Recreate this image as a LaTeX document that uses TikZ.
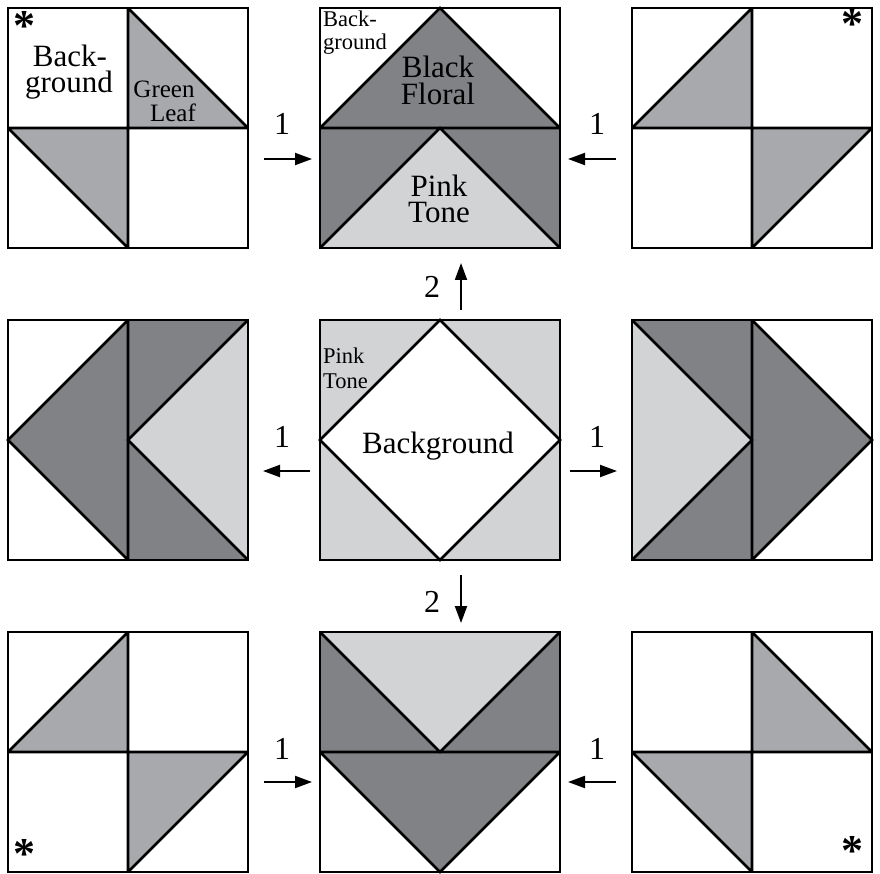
\documentclass[tikz,border=0pt]{standalone}
\usepackage{fontspec}
\setmainfont{Liberation Serif}
\usetikzlibrary{arrows.meta}
\definecolor{leaf}{HTML}{A7A9AC}
\definecolor{floral}{HTML}{808285}
\definecolor{pinktone}{HTML}{D1D3D4}
\tikzset{
  edge/.style={line width=2.6pt, line join=miter},
  txt/.style={inner sep=0pt, anchor=base},
  big/.style={font=\fontsize{31}{31}\selectfont},
  mid/.style={font=\fontsize{25}{25}\selectfont},
  small/.style={font=\fontsize{22.5}{22.5}\selectfont},
  num/.style={inner sep=0pt, anchor=base, font=\fontsize{32}{32}\selectfont},
  star/.style={inner sep=0pt, font=\fontsize{44}{44}\selectfont\bfseries},
  arr/.style={line width=2pt, -{Triangle[length=17pt,width=12pt]}},
  pinA/.pic={
    \fill[leaf] (120,0)--(240,120)--(120,120)--cycle;
    \fill[leaf] (0,120)--(120,120)--(120,240)--cycle;
    \draw[edge] (0,0) rectangle (240,240);
    \draw[edge] (0,120)--(240,120) (120,0)--(120,240) (120,0)--(240,120) (0,120)--(120,240);
  },
  pinB/.pic={
    \fill[leaf] (0,120)--(120,0)--(120,120)--cycle;
    \fill[leaf] (120,120)--(240,120)--(120,240)--cycle;
    \draw[edge] (0,0) rectangle (240,240);
    \draw[edge] (0,120)--(240,120) (120,0)--(120,240) (0,120)--(120,0) (240,120)--(120,240);
  },
  geeseUp/.pic={
    \fill[floral] (0,120)--(120,0)--(240,120)--cycle;
    \fill[floral] (0,120) rectangle (240,240);
    \fill[pinktone] (0,240)--(120,120)--(240,240)--cycle;
    \draw[edge] (0,0) rectangle (240,240);
    \draw[edge] (0,120)--(240,120) (0,120)--(120,0)--(240,120) (0,240)--(120,120)--(240,240);
  },
  geeseDown/.pic={
    \fill[floral] (0,0) rectangle (240,120);
    \fill[pinktone] (0,0)--(240,0)--(120,120)--cycle;
    \fill[floral] (0,120)--(240,120)--(120,240)--cycle;
    \draw[edge] (0,0) rectangle (240,240);
    \draw[edge] (0,120)--(240,120) (0,0)--(120,120)--(240,0) (0,120)--(120,240)--(240,120);
  },
  geeseLeft/.pic={
    \fill[floral] (120,0)--(0,120)--(120,240)--cycle;
    \fill[floral] (120,0) rectangle (240,240);
    \fill[pinktone] (240,0)--(120,120)--(240,240)--cycle;
    \draw[edge] (0,0) rectangle (240,240);
    \draw[edge] (120,0)--(120,240) (120,0)--(0,120)--(120,240) (240,0)--(120,120)--(240,240);
  },
  geeseRight/.pic={
    \fill[floral] (0,0) rectangle (120,240);
    \fill[pinktone] (0,0)--(120,120)--(0,240)--cycle;
    \fill[floral] (120,0)--(240,120)--(120,240)--cycle;
    \draw[edge] (0,0) rectangle (240,240);
    \draw[edge] (120,0)--(120,240) (0,0)--(120,120)--(0,240) (120,0)--(240,120)--(120,240);
  },
  centre/.pic={
    \fill[pinktone] (0,0) rectangle (240,240);
    \fill[white] (120,0)--(240,120)--(120,240)--(0,120)--cycle;
    \draw[edge] (0,0) rectangle (240,240);
    \draw[edge] (120,0)--(240,120)--(120,240)--(0,120)--cycle;
  }
}
\begin{document}
\begin{tikzpicture}[x=1pt,y=-1pt]
\useasboundingbox (0,0) rectangle (880,874);
\fill[white] (0,0) rectangle (880,874);

% blocks
\pic at (8,8) {pinA};
\pic at (320,8) {geeseUp};
\pic at (632,8) {pinB};
\pic at (8,320) {geeseLeft};
\pic at (320,320) {centre};
\pic at (632,320) {geeseRight};
\pic at (8,632) {pinB};
\pic at (320,632) {geeseDown};
\pic at (632,632) {pinA};

% texts in top-left block
\node[txt,big] (tlBack) at (70,67) {Back-};
\node[txt,big] (tlGround) at (69,93) {ground};
\node[txt,mid] (tlGreen) at (164,98) {Green};
\node[txt,mid] (tlLeaf) at (173,122) {Leaf};

% texts in top-middle block
\node[txt,small,anchor=base west] (tmBack) at (323,27) {Back-};
\node[txt,small,anchor=base west] (tmGround) at (323,50) {ground};
\node[txt,big] (tmBlack) at (438,78) {Black};
\node[txt,big] (tmFloral) at (438,105) {Floral};
\node[txt,big] (tmPink) at (439,197) {Pink};
\node[txt,big] (tmTone) at (439,223) {Tone};

% texts in centre block
\node[txt,small,anchor=base west] (cPink) at (323,363) {Pink};
\node[txt,small,anchor=base west] (cTone) at (323,388) {Tone};
\node[txt,big] (cBg) at (438,453) {Background};

% asterisks
\node[star] (s1) at (24,26) {*};
\node[star] (s2) at (852,24) {*};
\node[star] (s3) at (24,854) {*};
\node[star] (s4) at (852,851) {*};

% step numbers
\node[num] (n1) at (282,135) {1};
\node[num] (n2) at (597,135) {1};
\node[num] (n3) at (282,447) {1};
\node[num] (n4) at (597,447) {1};
\node[num] (n5) at (282,759) {1};
\node[num] (n6) at (597,759) {1};
\node[num] (n7) at (432,298) {2};
\node[num] (n8) at (432,612) {2};

% arrow end points
\coordinate (a1s) at (264,159); \coordinate (a1e) at (312,159);
\coordinate (a2s) at (616,159); \coordinate (a2e) at (568,159);
\coordinate (a3s) at (310,471); \coordinate (a3e) at (263,471);
\coordinate (a4s) at (570,471); \coordinate (a4e) at (617,471);
\coordinate (a5s) at (264,782); \coordinate (a5e) at (312,782);
\coordinate (a6s) at (616,782); \coordinate (a6e) at (568,782);
\coordinate (a7s) at (461,310); \coordinate (a7e) at (461,263);
\coordinate (a8s) at (461,575); \coordinate (a8e) at (461,623);

\draw[arr] (a1s) -- (a1e);
\draw[arr] (a2s) -- (a2e);
\draw[arr] (a3s) -- (a3e);
\draw[arr] (a4s) -- (a4e);
\draw[arr] (a5s) -- (a5e);
\draw[arr] (a6s) -- (a6e);
\draw[arr] (a7s) -- (a7e);
\draw[arr] (a8s) -- (a8e);
\end{tikzpicture}
\end{document}
